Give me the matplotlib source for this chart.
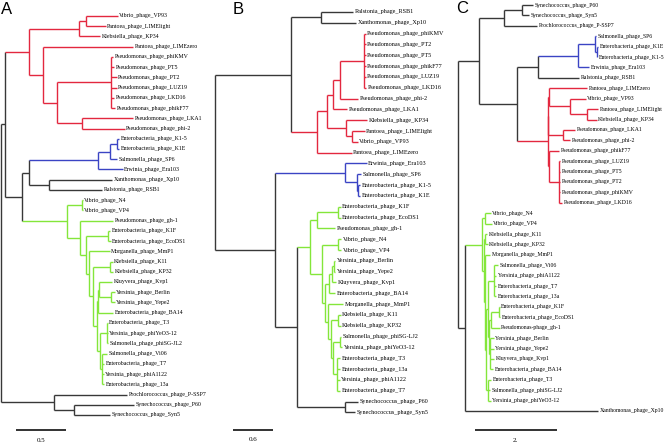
import matplotlib
matplotlib.use("Agg")
import matplotlib.pyplot as plt

### DATA ###
# Panel A: leaves top to bottom, tip depth (branch length units)
leaves_a = ["Vibrio_phage_VP93", "Pantoea_phage_LIMElight", "Klebsiella_phage_KP34",
            "Pantoea_phage_LIMEzero", "Pseudomonas_phage_phiKMV", "Pseudomonas_phage_PT5",
            "Pseudomonas_phage_PT2", "Pseudomonas_phage_LUZ19", "Pseudomonas_phage_LKD16",
            "Pseudomonas_phage_phikF77", "Pseudomonas_phage_LKA1", "Pseudomonas_phage_phi-2",
            "Enterobacteria_phage_K1-5", "Enterobacteria_phage_K1E", "Salmonella_phage_SP6",
            "Erwinia_phage_Era103", "Xanthomonas_phage_Xp10", "Ralstonia_phage_RSB1",
            "Vibrio_phage_N4", "Vibrio_phage_VP4", "Pseudomonas_phage_gh-1",
            "Enterobacteria_phage_K1F", "Enterobacteria_phage_EcoDS1", "Morganella_phage_MmP1",
            "Klebsiella_phage_K11", "Klebsiella_phage_KP32", "Kluyvera_phage_Kvp1",
            "Yersinia_phage_Berlin", "Yersinia_phage_Yepe2", "Enterobacteria_phage_BA14",
            "Enterobacteria_phage_T3", "Yersinia_phage_phiYeO3-12", "Salmonella_phage_phiSG-JL2",
            "Salmonella_phage_Vi06", "Enterobacteria_phage_T7", "Yersinia_phage_phiA1122",
            "Enterobacteria_phage_13a", "Prochlorococcus_phage_P-SSP7", "Synechococcus_phage_P60",
            "Synechococcus_phage_Syn5"]
tips_a = [1.177, 1.056, 0.996, 1.328, 1.127, 1.137, 1.162, 1.162, 1.137, 1.147,
          1.328, 1.247, 1.187, 1.187, 1.167, 1.227, 1.117, 1.016, 0.825, 0.825,
          1.127, 1.097, 1.102, 1.092, 1.122, 1.127, 1.117, 1.147, 1.147, 1.127,
          1.076, 1.076, 1.076, 1.066, 1.036, 1.036, 1.036, 1.268, 1.343, 1.097]
# internal nodes, children first: (name, depth, children, clade)
nodes_a = [
    ("ra1", 0.855, ["Vibrio_phage_VP93", "Pantoea_phage_LIMElight"], "r"),
    ("ra", 0.785, ["ra1", "Klebsiella_phage_KP34"], "r"),
    ("pa", 1.107, ["Pseudomonas_phage_phiKMV", "Pseudomonas_phage_PT5", "Pseudomonas_phage_PT2",
                   "Pseudomonas_phage_LUZ19", "Pseudomonas_phage_LKD16",
                   "Pseudomonas_phage_phikF77"], "r"),
    ("lk", 0.815, ["Pseudomonas_phage_LKA1", "Pseudomonas_phage_phi-2"], "r"),
    ("r3", 0.563, ["pa", "lk"], "r"),
    ("r2", 0.423, ["Pantoea_phage_LIMEzero", "r3"], "r"),
    ("r", 0.282, ["ra", "r2"], "r"),
    ("bl3", 1.167, ["Enterobacteria_phage_K1-5", "Enterobacteria_phage_K1E"], "b"),
    ("bl2", 1.097, ["bl3", "Salmonella_phage_SP6"], "b"),
    ("bl", 0.976, ["bl2", "Erwinia_phage_Era103"], "b"),
    ("xr", 0.483, ["Xanthomonas_phage_Xp10", "Ralstonia_phage_RSB1"], "k"),
    ("n3", 0.282, ["bl", "xr"], "k"),
    ("gnv", 0.812, ["Vibrio_phage_N4", "Vibrio_phage_VP4"], "g"),
    ("gkf", 1.076, ["Enterobacteria_phage_K1F", "Enterobacteria_phage_EcoDS1"], "g"),
    ("gkk", 1.097, ["Klebsiella_phage_K11", "Klebsiella_phage_KP32"], "g"),
    ("gby", 1.107, ["Yersinia_phage_Berlin", "Yersinia_phage_Yepe2"], "g"),
    ("g7a", 0.989, ["Kluyvera_phage_Kvp1", "gby"], "g"),
    ("g7", 0.976, ["g7a", "Enterobacteria_phage_BA14"], "g"),
    ("gts", 1.066, ["Enterobacteria_phage_T3", "Yersinia_phage_phiYeO3-12",
                    "Salmonella_phage_phiSG-JL2"], "g"),
    ("gvt", 1.016, ["Salmonella_phage_Vi06", "Enterobacteria_phage_T7",
                    "Yersinia_phage_phiA1122", "Enterobacteria_phage_13a"], "g"),
    ("g8", 0.996, ["gts", "gvt"], "g"),
    ("g6", 0.966, ["g7", "g8"], "g"),
    ("g5", 0.926, ["gkk", "g6"], "g"),
    ("g4", 0.885, ["Morganella_phage_MmP1", "g5"], "g"),
    ("g3", 0.855, ["gkf", "g4"], "g"),
    ("g2", 0.795, ["Pseudomonas_phage_gh-1", "g3"], "g"),
    ("g", 0.664, ["gnv", "g2"], "g"),
    ("n2", 0.211, ["n3", "g"], "k"),
    ("n1", 0.040, ["r", "n2"], "k"),
    ("ps2", 0.734, ["Synechococcus_phage_P60", "Synechococcus_phage_Syn5"], "k"),
    ("ps", 0.533, ["Prochlorococcus_phage_P-SSP7", "ps2"], "k"),
    ("root", 0.0, ["n1", "ps"], "k"),
]

# Panel B
leaves_b = ["Ralstonia_phage_RSB1", "Xanthomonas_phage_Xp10", "Pseudomonas_phage_phiKMV",
            "Pseudomonas_phage_PT2", "Pseudomonas_phage_PT5", "Pseudomonas_phage_phikF77",
            "Pseudomonas_phage_LUZ19", "Pseudomonas_phage_LKD16", "Pseudomonas_phage_phi-2",
            "Pseudomonas_phage_LKA1", "Klebsiella_phage_KP34", "Pantoea_phage_LIMElight",
            "Vibrio_phage_VP93", "Pantoea_phage_LIMEzero", "Erwinia_phage_Era103",
            "Salmonella_phage_SP6", "Enterobacteria_phage_K1-5", "Enterobacteria_phage_K1E",
            "Enterobacteria_phage_K1F", "Enterobacteria_phage_EcoDS1", "Pseudomonas_phage_gh-1",
            "Vibrio_phage_N4", "Vibrio_phage_VP4", "Yersinia_phage_Berlin",
            "Yersinia_phage_Yepe2", "Kluyvera_phage_Kvp1", "Enterobacteria_phage_BA14",
            "Morganella_phage_MmP1", "Klebsiella_phage_K11", "Klebsiella_phage_KP32",
            "Salmonella_phage_phiSG-LJ2", "Yersinia_phage_phiYeO3-12", "Enterobacteria_phage_T3",
            "Enterobacteria_phage_13a", "Yersinia_phage_phiA1122", "Enterobacteria_phage_T7",
            "Synechococcus_phage_P60", "Synechococcus_phage_Syn5"]
tips_b = [2.058, 2.098, 2.243, 2.243, 2.243, 2.243, 2.243, 2.247, 2.128, 1.964,
          2.262, 2.225, 2.128, 2.034, 2.257, 2.173, 2.158, 2.158, 1.868, 1.868,
          1.793, 1.882, 1.882, 1.793, 1.793, 1.801, 1.793, 1.912, 1.868, 1.868,
          1.882, 1.897, 1.860, 1.860, 1.860, 1.860, 2.128, 2.083]
nodes_b = [
    ("xrb", 1.573, ["Ralstonia_phage_RSB1", "Xanthomonas_phage_Xp10"], "k"),
    ("pb", 2.217, ["Pseudomonas_phage_phiKMV", "Pseudomonas_phage_PT2", "Pseudomonas_phage_PT5",
                   "Pseudomonas_phage_phikF77", "Pseudomonas_phage_LUZ19",
                   "Pseudomonas_phage_LKD16"], "r"),
    ("rc", 1.860, ["pb", "Pseudomonas_phage_phi-2"], "r"),
    ("rb", 1.760, ["rc", "Pseudomonas_phage_LKA1"], "r"),
    ("rl", 2.039, ["Pantoea_phage_LIMElight", "Vibrio_phage_VP93"], "r"),
    ("rk", 1.949, ["Klebsiella_phage_KP34", "rl"], "r"),
    ("ra", 1.662, ["rb", "rk"], "r"),
    ("rr", 1.513, ["ra", "Pantoea_phage_LIMEzero"], "r"),
    ("b1", 1.131, ["xrb", "rr"], "k"),
    ("blb3", 2.132, ["Enterobacteria_phage_K1-5", "Enterobacteria_phage_K1E"], "b"),
    ("blb2", 2.109, ["Salmonella_phage_SP6", "blb3"], "b"),
    ("blb", 1.935, ["Erwinia_phage_Era103", "blb2"], "b"),
    ("gkf", 1.835, ["Enterobacteria_phage_K1F", "Enterobacteria_phage_EcoDS1"], "g"),
    ("ga", 1.513, ["gkf", "Pseudomonas_phage_gh-1"], "g"),
    ("gnv", 1.835, ["Vibrio_phage_N4", "Vibrio_phage_VP4"], "g"),
    ("gby", 1.771, ["Yersinia_phage_Berlin", "Yersinia_phage_Yepe2"], "g"),
    ("gbk", 1.734, ["gby", "Kluyvera_phage_Kvp1"], "g"),
    ("gba", 1.696, ["gbk", "Enterobacteria_phage_BA14"], "g"),
    ("gkk", 1.830, ["Klebsiella_phage_K11", "Klebsiella_phage_KP32"], "g"),
    ("gsy", 1.853, ["Salmonella_phage_phiSG-LJ2", "Yersinia_phage_phiYeO3-12"], "g"),
    ("gt", 1.815, ["Enterobacteria_phage_T3", "Enterobacteria_phage_13a",
                   "Yersinia_phage_phiA1122", "Enterobacteria_phage_T7"], "g"),
    ("gm3", 1.756, ["gsy", "gt"], "g"),
    ("gm2", 1.726, ["gkk", "gm3"], "g"),
    ("gm", 1.682, ["Morganella_phage_MmP1", "gm2"], "g"),
    ("g3", 1.637, ["gba", "gm"], "g"),
    ("g2", 1.592, ["gnv", "g3"], "g"),
    ("g", 1.414, ["ga", "g2"], "g"),
    ("ss", 1.935, ["Synechococcus_phage_P60", "Synechococcus_phage_Syn5"], "k"),
    ("b3", 1.216, ["g", "ss"], "k"),
    ("b2", 0.893, ["blb", "b3"], "k"),
    ("root", 0.0, ["b1", "b2"], "k"),
]

# Panel C
leaves_c = ["Synechococcus_phage_P60", "Synechococcus_phage_Syn5", "Prochlorococcus_phage_P-SSP7",
            "Salmonella_phage_SP6", "Enterobacteria_phage_K1E", "Enterobacteria_phage_K1-5",
            "Erwinia_phage_Era103", "Ralstonia_phage_RSB1", "Pantoea_phage_LIMEzero",
            "Vibrio_phage_VP93", "Pantoea_phage_LIMElight", "Klebsiella_phage_KP34",
            "Pseudomonas_phage_LKA1", "Pseudomonas_phage_phi-2", "Pseudomonas_phage_phikF77",
            "Pseudomonas_phage_LUZ19", "Pseudomonas_phage_PT5", "Pseudomonas_phage_PT2",
            "Pseudomonas_phage_phiKMV", "Pseudomonas_phage_LKD16", "Vibrio_phage_N4",
            "Vibrio_phage_VP4", "Klebsiella_phage_K11", "Klebsiella_phage_KP32",
            "Morganella_phage_MmP1", "Salmonella_phage_Vi06", "Yersinia_phage_phiA1122",
            "Enterobacteria_phage_T7", "Enterobacteria_phage_13a", "Enterobacteria_phage_K1F",
            "Enterobacteria_phage_EcoDS1", "Pseudomonas-phage_gh-1", "Yersinia_phage_Berlin",
            "Yersinia_phage_Yepe2", "Kluyvera_phage_Kvp1", "Enterobacteria_phage_BA14",
            "Enterobacteria_phage_T3", "Salmonella_phage_phiSG-LJ2", "Yersinia_phage_phiYeO3-12",
            "Xanthomonas_phage_Xp10"]
tips_c = [1.843, 1.733, 1.929, 3.387, 3.424, 3.407, 3.211, 2.966, 3.154, 3.130,
          3.431, 3.392, 2.860, 2.738, 2.480, 2.493, 2.493, 2.493, 2.493, 2.542,
          0.801, 0.814, 0.703, 0.716, 0.789, 0.973, 0.936, 0.936, 0.936, 1.010,
          1.022, 1.010, 0.875, 0.875, 0.875, 0.850, 0.801, 0.777, 0.801, 3.431]
nodes_c = [
    ("cp2", 1.554, ["Synechococcus_phage_P60", "Synechococcus_phage_Syn5"], "k"),
    ("cp", 1.120, ["cp2", "Prochlorococcus_phage_P-SSP7"], "k"),
    ("cbl3", 3.392, ["Enterobacteria_phage_K1E", "Enterobacteria_phage_K1-5"], "b"),
    ("cbl2", 3.350, ["Salmonella_phage_SP6", "cbl3"], "b"),
    ("cbl", 2.941, ["cbl2", "Erwinia_phage_Era103"], "b"),
    ("cb", 1.961, ["cbl", "Ralstonia_phage_RSB1"], "k"),
    ("rcl", 3.147, ["Pantoea_phage_LIMElight", "Klebsiella_phage_KP34"], "r"),
    ("rcv", 2.738, ["Vibrio_phage_VP93", "rcl"], "r"),
    ("rcz", 2.213, ["Pantoea_phage_LIMEzero", "rcv"], "r"),
    ("rck", 2.559, ["Pseudomonas_phage_LKA1", "Pseudomonas_phage_phi-2"], "r"),
    ("rc1", 2.206, ["rcz", "rck"], "r"),
    ("rcp2", 2.475, ["Pseudomonas_phage_LUZ19", "Pseudomonas_phage_PT5", "Pseudomonas_phage_PT2",
                     "Pseudomonas_phage_phiKMV", "Pseudomonas_phage_LKD16"], "r"),
    ("rcp", 2.230, ["Pseudomonas_phage_phikF77", "rcp2"], "r"),
    ("rc", 2.199, ["rc1", "rcp"], "r"),
    ("c2", 1.431, ["cb", "rc"], "k"),
    ("c1", 0.515, ["cp", "c2"], "k"),
    ("gnv", 0.662, ["Vibrio_phage_N4", "Vibrio_phage_VP4"], "g"),
    ("gkk", 0.662, ["Klebsiella_phage_K11", "Klebsiella_phage_KP32"], "g"),
    ("gv", 0.868, ["Salmonella_phage_Vi06", "Yersinia_phage_phiA1122",
                   "Enterobacteria_phage_T7", "Enterobacteria_phage_13a"], "g"),
    ("gkf", 0.990, ["Enterobacteria_phage_K1F", "Enterobacteria_phage_EcoDS1"], "g"),
    ("gkfg", 0.809, ["gkf", "Pseudomonas-phage_gh-1"], "g"),
    ("gb", 0.789, ["Yersinia_phage_Berlin", "Yersinia_phage_Yepe2",
                   "Kluyvera_phage_Kvp1", "Enterobacteria_phage_BA14"], "g"),
    ("g6", 0.752, ["gkfg", "gb"], "g"),
    ("g5", 0.728, ["gv", "g6"], "g"),
    ("gt", 0.728, ["Enterobacteria_phage_T3", "Salmonella_phage_phiSG-LJ2",
                   "Yersinia_phage_phiYeO3-12"], "g"),
    ("g4", 0.679, ["g5", "gt"], "g"),
    ("g3", 0.654, ["Morganella_phage_MmP1", "g4"], "g"),
    ("g2", 0.618, ["gkk", "g3"], "g"),
    ("g", 0.581, ["gnv", "g2"], "g"),
    ("c3", 0.172, ["g", "Xanthomonas_phage_Xp10"], "k"),
    ("root", 0.0, ["c1", "c3"], "k"),
]

scale_len = [0.5, 0.6, 2.0]
scale_text = ["0.5", "0.6", "2."]
panel_names = ["A", "B", "C"]

### STYLE / LAYOUT ###
COLS = {"r": "#e3283f", "b": "#3b44c4", "g": "#84e63a", "k": "#383838"}
W, H = 664, 443
# (axes left px, axes right px, root px, px per unit, first leaf px, leaf step px,
#  bar start px, label font size)
layout = [(0, 212, 1.0, 99.4, 16.0, 10.23, 16.0, 4.2),
          (212, 452, 215.0, 67.2, 12.0, 10.82, 233.0, 4.4),
          (452, 664, 458.3, 40.8, 5.0, 10.41, 475.0, 4.15)]
letter_px = [(1, 2), (233, 2), (456, 1)]


def draw_tree(ax, leaves, tips, nodes, fs):
    y = {n: i for i, n in enumerate(leaves)}
    x = dict(zip(leaves, tips))
    col = {}
    for name, depth, kids, c in nodes:
        x[name] = depth
        y[name] = (y[kids[0]] + y[kids[-1]]) / 2.0
        col[name] = c
    for name, depth, kids, c in nodes:
        ax.plot([depth, depth], [y[kids[0]], y[kids[-1]]], color=COLS[c], lw=1.0,
                solid_capstyle="butt", clip_on=False)
        for k in kids:
            kc = col.get(k, c)
            ax.plot([depth, x[k]], [y[k], y[k]], color=COLS[kc], lw=1.0,
                    solid_capstyle="butt", clip_on=False)
    for n in leaves:
        ax.annotate(n, (x[n], y[n]), xytext=(1.0, 0), textcoords="offset points",
                    va="center", ha="left", fontsize=fs, family="Liberation Serif")


fig = plt.figure(figsize=(W / 100, H / 100), dpi=100)
trees = [(leaves_a, tips_a, nodes_a), (leaves_b, tips_b, nodes_b), (leaves_c, tips_c, nodes_c)]
for i, (leaves, tips, nodes) in enumerate(trees):
    left, right, root_px, ppu, y0, dy, bar_px, fs = layout[i]
    ax = fig.add_axes([left / W, 0, (right - left) / W, 1])
    ax.set_xlim((left - root_px) / ppu, (right - root_px) / ppu)
    ax.set_ylim((H - y0) / dy, -y0 / dy)
    ax.axis("off")
    draw_tree(ax, leaves, tips, nodes, fs)
    # scale bar
    bx = (bar_px - root_px) / ppu
    by = (429.5 - y0) / dy
    ax.plot([bx, bx + scale_len[i]], [by, by], color="#222222", lw=1.3,
            solid_capstyle="butt", clip_on=False)
    ax.text(bx + scale_len[i] / 2, (440 - y0) / dy, scale_text[i], ha="center",
            va="center", fontsize=5, family="Liberation Serif")
    lx, ly = letter_px[i]
    fig.text(lx / W, 1 - ly / H, panel_names[i], ha="left", va="top", fontsize=12,
             family="Liberation Sans")

fig.savefig("out.png", dpi=100)
